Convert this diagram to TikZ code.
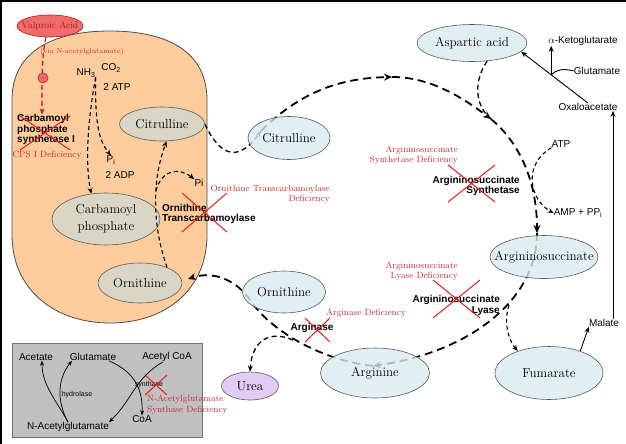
\documentclass[tikz,border=0pt]{standalone}
\usepackage{fontspec}
\setsansfont{Liberation Sans}
\usetikzlibrary{arrows.meta,shapes.geometric,calc}
\definecolor{peach}{RGB}{252,204,156}
\definecolor{khaki}{RGB}{218,214,198}
\definecolor{lblue}{RGB}{216,236,239}
\definecolor{lavender}{RGB}{226,204,245}
\definecolor{valpfill}{RGB}{240,108,108}
\definecolor{valptext}{RGB}{176,30,30}
\definecolor{redtxt}{RGB}{196,40,52}
\definecolor{xred}{RGB}{232,28,28}
\definecolor{boxgray}{RGB}{192,192,192}
\pgfdeclarelayer{back}
\pgfdeclarelayer{mid}
\pgfsetlayers{back,mid,main}
\begin{document}
\begin{tikzpicture}[x=1pt,y=-1pt,
  >={Stealth[length=6pt,width=5pt]},
  innerell/.style={ellipse, draw=black!65, line width=0.6pt, fill=khaki, inner sep=0pt},
  outerell/.style={ellipse, draw=black!65, line width=0.6pt, fill=lblue, fill opacity=0.8, inner sep=0pt},
  etext/.style={font=\fontsize{13}{16}\selectfont, align=center, inner sep=0pt},
  sans/.style={font=\sffamily\fontsize{10}{11}\selectfont, inner sep=0pt},
  smallsans/.style={font=\sffamily\fontsize{7}{8}\selectfont, inner sep=0pt},
  bsans/.style={font=\sffamily\bfseries\fontsize{10}{10.5}\selectfont, inner sep=0pt},
  redtext/.style={text=redtxt, font=\fontsize{9}{10.5}\selectfont, inner sep=0pt},
  xline/.style={draw=xred, line width=1pt},
  bigdash/.style={line width=1.8pt, dash pattern=on 8pt off 5pt, -{Stealth[length=8pt,width=7pt]}},
  meddash/.style={line width=1.3pt, dash pattern=on 5pt off 3.5pt},
  smalldash/.style={line width=1.1pt, dash pattern=on 4pt off 3pt},
  solidarr/.style={line width=0.9pt, ->},
  thinarr/.style={line width=0.7pt, -{Stealth[length=5pt,width=4pt]}}
]
\useasboundingbox (0,0) rectangle (626,444);

% frame (top and left)
\draw[line width=2pt] (1,444) -- (1,1) -- (626,1);

% ---------- nodes ----------
\node[innerell, minimum width=85pt, minimum height=34pt] (citin) at (162,124) {};
\node[etext] (tcitin) at (citin) {Citrulline};
\node[innerell, minimum width=108pt, minimum height=52pt] (carb) at (106,219) {};
\node[etext, font=\fontsize{13}{17}\selectfont] (tcarb) at (carb) {Carbamoyl\\phosphate};
\node[innerell, minimum width=84pt, minimum height=40pt] (ornin) at (140,283) {};
\node[etext] (tornin) at (ornin) {Ornithine};

\node[outerell, minimum width=82pt, minimum height=43pt] (citout) at (289,138) {};
\node[etext] (tcitout) at (citout) {Citrulline};
\node[outerell, minimum width=110pt, minimum height=37pt] (asp) at (472,43) {};
\node[etext] (tasp) at (asp) {Aspartic acid};
\node[outerell, minimum width=108pt, minimum height=43pt] (asuc) at (544,257) {};
\node[etext] (tasuc) at (asuc) {Argininosuccinate};
\node[outerell, minimum width=108pt, minimum height=53pt] (fum) at (549,373) {};
\node[etext] (tfum) at (fum) {Fumarate};
\node[outerell, minimum width=109pt, minimum height=50pt] (arg) at (375,373) {};
\node[etext] (targ) at (arg) {Arginine};
\node[outerell, minimum width=83pt, minimum height=42pt] (ornout) at (284,292) {};
\node[etext] (tornout) at (ornout) {Ornithine};
\node[ellipse, draw=black!65, line width=0.6pt, fill=lavender, inner sep=0pt,
      minimum width=57pt, minimum height=28pt] (urea) at (250,386) {};
\node[etext] (turea) at (urea) {Urea};
\node[ellipse, draw=xred!80!black, line width=0.6pt, fill=valpfill, inner sep=0pt,
      minimum width=66pt, minimum height=22pt] (valp) at (50,26) {};
\node[text=valptext, font=\fontsize{9.5}{11}\selectfont, inner sep=0pt] (tvalp) at (valp) {Valproic Acid};

% ---------- background shapes ----------
\begin{pgfonlayer}{back}
\draw[fill=peach, draw=black!70, line width=0.8pt]
  (12,100) .. controls (12,52) and (52,31) .. (110,31)
  .. controls (168,31) and (207,52) .. (207,100) -- (207,235)
  .. controls (207,290) and (165,323) .. (110,323)
  .. controls (55,323) and (12,290) .. (12,235) -- cycle;
\draw[fill=boxgray, draw=black!55, line width=0.6pt] (12,343) rectangle (202,437);
\end{pgfonlayer}

% ---------- text labels ----------
\node[redtext, font=\fontsize{7}{8}\selectfont] (via) at (82,52) {(via N-acetylglutamate)};
\node[bsans, align=left, anchor=north west] (cps) at (17,114.5) {Carbamoyl\\phosphate\\synthetase I};
\node[redtext] (cpsdef) at (47,155) {CPS I Deficiency};
\node[sans] (nh3) at (86,73) {NH\textsubscript{3}};
\node[sans] (co2) at (111,68) {CO\textsubscript{2}};
\node[sans] (atp2) at (117,87) {2 ATP};
\node[sans] (pi1) at (111,160) {P\textsubscript{i}};
\node[sans] (adp2) at (120,175) {2 ADP};
\node[sans] (pi2) at (199,183) {Pi};
\node[bsans, align=left, anchor=north west] (otc) at (162,204) {Ornithine\\Transcarbamoylase};
\node[redtext, align=right, anchor=north east] (otcdef) at (330,184.5) {Ornithine Transcarbamoylase\\Deficiency};
\node[bsans, align=right, anchor=north east] (ass) at (520,176) {Argininosuccinate\\Synthetase};
\node[redtext, align=right, anchor=north east] (assdef) at (458,145.5) {Argininosuccinate\\Synthetase Deficiency};
\node[redtext, align=right, anchor=north east] (asldef) at (458,261.5) {Argininosuccinate\\Lyase Deficiency};
\node[bsans, align=right, anchor=north east] (asl) at (500,295.5) {Argininosuccinate\\Lyase};
\node[bsans] (argase) at (312,328) {Arginase};
\node[redtext] (argdef) at (366,313) {Arginase Deficiency};
\node[sans] (atp) at (561,144) {ATP};
\node[sans] (amp) at (578,213) {AMP + PP\textsubscript{i}};
\node[sans] (akg) at (583,41) {$\alpha$-Ketoglutarate};
\node[sans] (glu) at (597,71) {Glutamate};
\node[sans] (oxal) at (588,107) {Oxaloacetate};
\node[sans] (malate) at (604,323) {Malate};
% grey box texts
\node[sans] (acet) at (36,357) {Acetate};
\node[sans] (glut) at (93,357) {Glutamate};
\node[sans] (acoa) at (167,357) {Acetyl CoA};
\node[smallsans] (hydro) at (77,395) {hydrolase};
\node[smallsans] (synth) at (149,385) {synthase};
\node[sans] (coa) at (142,419) {CoA};
\node[sans] (nag) at (68,427) {N-Acetylglutamate};
\node[redtext, align=left, anchor=north west] (nagsdef) at (147,395) {N-Acetylglutamate\\Synthase Deficiency};

% ---------- red crosses ----------
\draw[xline] (20,116) -- (70,150) (20,150) -- (70,116);
\draw[xline] (182,193) -- (227,232) (182,232) -- (227,193);
\draw[xline] (448,165) -- (495,202) (448,202) -- (495,165);
\draw[xline] (433,280) -- (480,318) (433,318) -- (480,280);
\draw[xline] (305,318) -- (330,342) (305,342) -- (330,318);
\draw[xline] (145,375) -- (167,395) (145,395) -- (167,375);

% ---------- cycle (under the light ellipses) ----------
\coordinate (c1) at (261,131);
\coordinate (c2) at (392,77);
\coordinate (c3) at (491,119);
\coordinate (c4) at (537,233);
\coordinate (c5) at (373,366);
\coordinate (c6) at (188,279);
\begin{pgfonlayer}{mid}
\draw[meddash, ->] (citin.east) .. controls (222,160) and (240,160) .. (c1);
\draw[bigdash] (c1) .. controls (300,92) and (340,78) .. (c2);
\draw[bigdash] (c2) .. controls (430,77) and (462,97) .. (c3);
\draw[bigdash] (c3) .. controls (522,145) and (537,185) .. (c4);
\draw[bigdash] (c4) .. controls (537,300) and (470,352) .. (c5);
\draw[bigdash] (c5) .. controls (320,360) and (270,330) .. (250,300)
   .. controls (238,282) and (215,270) .. (c6);
\end{pgfonlayer}

% ---------- side branches ----------
\draw[meddash] (asp.310) .. controls (474,80) and (474,105) .. (c3);
\draw[smalldash, ->] (atp.south west) .. controls (522,165) and (530,200) .. (amp.west);
\coordinate (c7) at (509,305);
\draw[smalldash, ->] (c7) .. controls (504,320) and (507,338) .. (fum.145);
\coordinate (c8) at (293,340);
\draw[meddash, ->] (c8) .. controls (270,330) and (252,340) .. (urea.north);

% ---------- mitochondrion arrows ----------
\draw[smalldash, ->] (nh3.south east) .. controls (86,130) and (86,170) .. (carb.120);
\draw[smalldash, ->] (nh3.south east) .. controls (95,120) and (98,140) .. (pi1.north);
\draw[smalldash, ->] (ornin.30) .. controls (152,225) and (152,180) .. (citin.-75);
\coordinate (c9) at (156,191);
\draw[smalldash, ->] (c9) .. controls (162,168) and (180,168) .. (pi2.north west);
\draw[line width=1.2pt, dash pattern=on 5pt off 3pt, draw=xred!85!black, ->] (valp.250) .. controls (41,60) and (42,90) .. ([xshift=-4pt]cps.north);
\node[circle, draw=valptext, fill=valpfill, line width=0.6pt, minimum size=10pt, inner sep=0pt] (inh) at (43,78) {};
\node[font=\bfseries\fontsize{8}{8}\selectfont, text=valptext, inner sep=0pt] (inhm) at (inh) {$-$};

% ---------- solid arrows (right) ----------
\draw[solidarr] (fum.35) -- (malate.south west);
\draw[solidarr] ([xshift=9pt]malate.north) -- ([xshift=9pt]malate.north |- oxal.south);
\draw[solidarr] (oxal.north) -- (asp.-10);
\coordinate (j1) at ($(oxal.north)!0.55!(asp.-10)$);
\draw[solidarr] (j1) -- (j1 |- akg.south);
\draw[line width=0.9pt] (j1) .. controls (556,70) and (562,68) .. (glu.west);

% ---------- grey box arrows ----------
\draw[thinarr] (nag.north) .. controls (56,400) and (42,385) .. ([xshift=6pt]acet.south);
\draw[thinarr] (nag.north) .. controls (56,400) and (58,378) .. ([xshift=-21pt]glut.south);
\draw[thinarr] ([xshift=16pt]glut.south) .. controls (135,372) and (143,390) .. (coa.north);
\draw[thinarr] ([xshift=-4pt]acoa.south) .. controls (135,378) and (132,400) .. (nag.north east);
\end{tikzpicture}
\end{document}
